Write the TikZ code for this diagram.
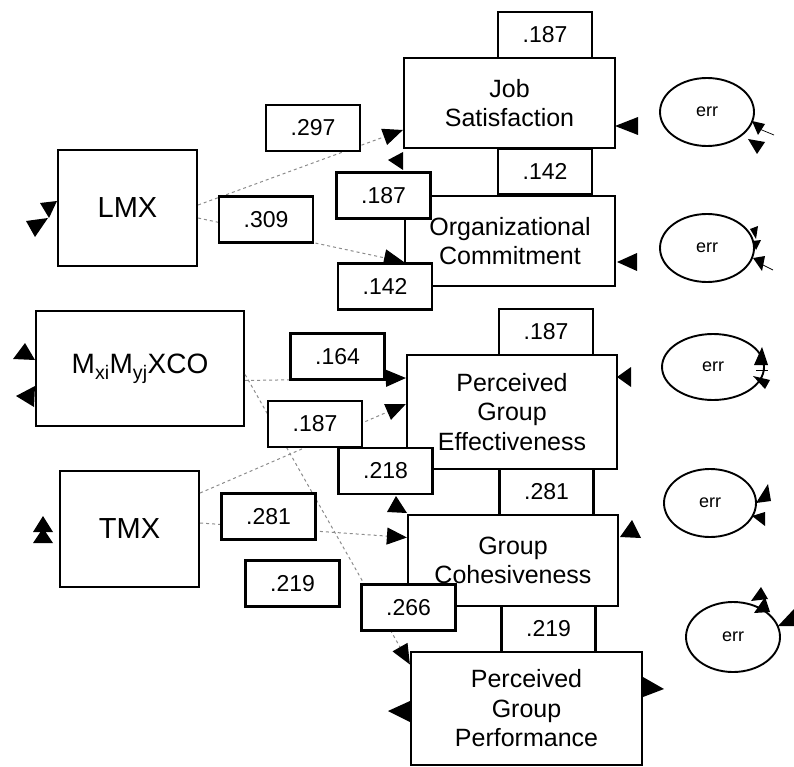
\documentclass[tikz,border=0pt]{standalone}
\usepackage{fontspec}
\setmainfont{Liberation Sans}
\usetikzlibrary{arrows.meta,shapes.geometric,calc}
\begin{document}
\begin{tikzpicture}[x=1pt,y=-1pt,
  box/.style={draw,line width=2.2pt,fill=white,align=center,inner sep=0pt,
    font=\fontsize{25}{29.5}\selectfont},
  bigbox/.style={box,minimum width=139pt,minimum height=116pt,
    font=\fontsize{29}{32}\selectfont},
  lbl/.style={draw,line width=2.2pt,fill=white,minimum width=94pt,minimum height=46pt,
    inner sep=0pt,font=\fontsize{23}{27}\selectfont},
  errnode/.style={draw,ellipse,line width=1.9pt,minimum width=94pt,minimum height=68pt,
    inner sep=0pt,font=\fontsize{18}{20}\selectfont},
  conn/.style={black!45,dashed,line width=1pt,
    -{Triangle[length=20pt,width=17pt,fill=black,color=black]}},
  tip/.style={fill=black}]
\useasboundingbox (0,0) rectangle (794,767);

% main variables
\node[bigbox] (lmx) at (127.5,208) {LMX};
\node[box,minimum width=208pt,minimum height=115pt,font=\fontsize{28}{32}\selectfont]
  (mx) at (140,368.5) {M\textsubscript{xi}M\textsubscript{yj}XCO};
\node[bigbox] (tmx) at (129.5,529) {TMX};
\node[box,minimum width=211pt,minimum height=90pt] (js) at (509.5,103) {Job\\Satisfaction};
\node[box,minimum width=210pt,minimum height=90pt] (oc) at (510,241) {Organizational\\Commitment};
\node[box,minimum width=210pt,minimum height=114pt] (pge) at (512,412) {Perceived\\Group\\Effectiveness};
\node[box,minimum width=210pt,minimum height=91pt] (gc) at (513,560.5) {Group\\Cohesiveness};
\node[box,minimum width=231pt,minimum height=113pt] (pgp) at (526.5,708.5) {Perceived\\Group\\Performance};

% paths
\draw[conn] ($(lmx.east)+(0,-3)$) -- ($(js.west)+(0,27)$);
\draw[conn] ($(lmx.east)+(0,10)$) -- ($(oc.west)+(0,21)$);
\draw[conn] ($(mx.east)+(0,12)$) -- ($(pge.west)+(0,-34)$);
\draw[conn] ($(mx.east)+(0,6)$) -- ($(pgp.west)+(0,-44)$);
\draw[conn] ($(tmx.east)+(0,-36)$) -- ($(pge.west)+(0,-8)$);
\draw[conn] ($(tmx.east)+(0,-6)$) -- ($(gc.west)+(0,-23)$);

% coefficient labels
\node[lbl] (l187a) at (545,35) {.187};
\node[lbl] (l142a) at (545,171.5) {.142};
\node[lbl] (l297) at (313,128) {.297};
\node[lbl] (l309) at (266,219.5) {.309};
\node[lbl] (l187b) at (383.5,195.5) {.187};
\node[lbl] (l142b) at (385,286.5) {.142};
\node[lbl] (l164) at (337.5,356.5) {.164};
\node[lbl] (l187c) at (315,424) {.187};
\node[lbl] (l218) at (385.5,471) {.218};
\node[lbl] (l187d) at (546,332) {.187};
\node[lbl] (l281a) at (546.5,492) {.281};
\node[lbl] (l281b) at (268.5,516.5) {.281};
\node[lbl] (l219a) at (292.5,583.5) {.219};
\node[lbl] (l266) at (408.5,607.5) {.266};
\node[lbl] (l219b) at (548.5,629) {.219};

% error terms
\node[errnode] (e1) at (707,112) {err};
\node[errnode] (e2) at (707,248) {err};
\node[errnode,minimum width=102pt,minimum height=66pt] (e3) at (713,367) {err};
\node[errnode,minimum width=92pt] (e4) at (710,503) {err};
\node[errnode,minimum height=70pt] (e5) at (733,637) {err};

% remaining arrowheads
% left side of exogenous variables
\fill[tip] (40,203) -- (57,201) -- (49,218) -- cycle;
\fill[tip] (26,221) -- (48,218) -- (35,237) -- cycle;
\fill[tip] (13,359) -- (25,343) -- (35,360) -- cycle;
\fill[tip] (16,396) -- (35,386) -- (34,407) -- cycle;
\fill[tip] (33,532) -- (43,516) -- (53,532) -- cycle;
\fill[tip] (33,543) -- (43,528) -- (53,543) -- cycle;
% endogenous boxes
\fill[tip] (388,160) -- (403,152) -- (403,170) -- cycle;
\fill[tip] (615,126) -- (638,117) -- (638,135) -- cycle;
\fill[tip] (617,262) -- (637,253) -- (637,271) -- cycle;
\fill[tip] (617,377) -- (631,367) -- (631,387) -- cycle;
\fill[tip] (620,537) -- (632,520) -- (641,538) -- cycle;
\fill[tip] (387,512) -- (396,496) -- (407,513) -- cycle;
\fill[tip] (388,711) -- (410,701) -- (410,722) -- cycle;
\fill[tip] (643,677) -- (664,689) -- (643,697) -- cycle;
% error terms
\fill[tip] (752,121) -- (765,124) -- (758,135) -- cycle;
\fill[tip] (748,139) -- (765,142) -- (757,154) -- cycle;
\draw[line width=0.7pt] (757,128) -- (774,135);
\fill[tip] (750,229) -- (758,226) -- (756,239) -- cycle;
\fill[tip] (752,241) -- (761,240) -- (756,250) -- cycle;
\fill[tip] (753,258) -- (765,256) -- (762,271) -- cycle;
\draw[line width=0.7pt] (757,262) -- (773,270);
\fill[tip] (754,365) -- (762,347) -- (768,365) -- cycle;
\draw[line width=0.7pt] (756,370) -- (768,370);
\fill[tip] (753,376) -- (770,380) -- (765,389) -- cycle;
\fill[tip] (756,503) -- (768,484) -- (771,501) -- cycle;
\fill[tip] (752,516) -- (765,512) -- (765,526) -- cycle;
\fill[tip] (751,601) -- (761,587) -- (768,599) -- cycle;
\fill[tip] (754,613) -- (765,597) -- (770,612) -- cycle;
\fill[tip] (778,626) -- (794,609) -- (794,626) -- cycle;
\end{tikzpicture}
\end{document}
